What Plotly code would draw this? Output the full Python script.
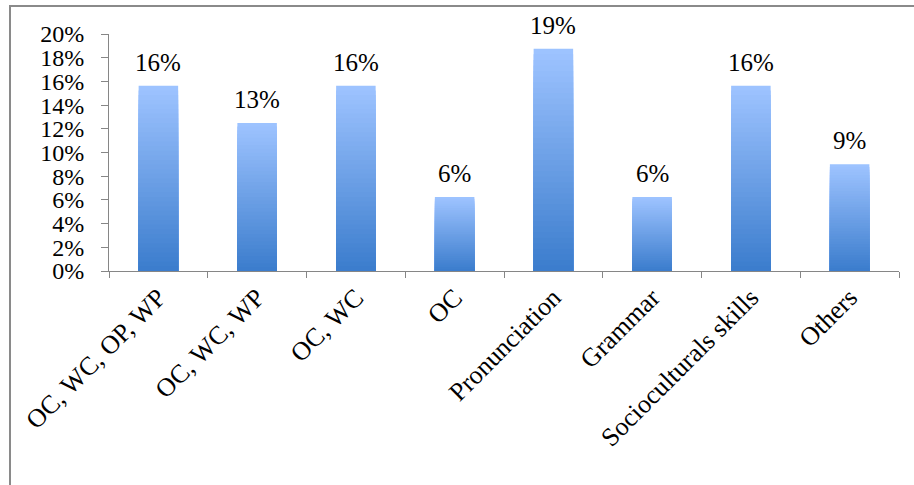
import plotly.graph_objects as go

categories = ["OC, WC, OP, WP", "OC, WC, WP", "OC, WC", "OC", "Pronunciation",
              "Grammar", "Socioculturals skills", "Others"]
values = [15.625, 12.5, 15.625, 6.25, 18.75, 6.25, 15.625, 9.0]
labels = [f"{int(v + 0.5)}%" for v in values]
y_ticks = list(range(0, 21, 2))

FONT = "Liberation Serif"
top_rgb = (157, 195, 255)
bot_rgb = (60, 125, 205)
N = 40

fig = go.Figure()
for i in range(N):
    frac = (N - i) / N
    t = i / (N - 1)
    c = tuple(int(round(top_rgb[k] + (bot_rgb[k] - top_rgb[k]) * t)) for k in range(3))
    fig.add_trace(go.Bar(
        x=categories,
        y=[v * frac for v in values],
        marker=dict(color=f"rgb{c}", line=dict(width=0)),
        hoverinfo="skip" if i else "y",
        showlegend=False,
    ))

for cat, v, lab in zip(categories, values, labels):
    fig.add_annotation(x=cat, y=v, text=lab, showarrow=False, yanchor="bottom",
                       yshift=8, font=dict(family=FONT, size=25, color="black"))

fig.update_layout(
    width=914, height=485,
    margin=dict(l=109, r=15, t=34, b=214),
    barmode="overlay", bargap=0.6,
    plot_bgcolor="white", paper_bgcolor="white",
    font=dict(family=FONT, size=25, color="black"),
    shapes=[dict(type="rect", xref="paper", yref="paper",
                 x0=(10 - 109) / 790, x1=1.05, y0=-1.0, y1=(271 - 6) / 237,
                 line=dict(color="#8a8a8a", width=2), fillcolor="rgba(0,0,0,0)",
                 layer="below")],
)
fig.update_xaxes(
    type="category", range=[-0.5, 7.5], tickson="boundaries", ticks="outside",
    ticklen=6, tickcolor="#868686", showline=True, linecolor="#868686", linewidth=1,
    tickangle=-45, showgrid=False, tickfont=dict(family=FONT, size=26, color="black"),
)
fig.update_yaxes(
    range=[0, 20], tickvals=y_ticks, ticktext=[f"{v}%" for v in y_ticks],
    ticks="outside", ticklen=7, tickcolor="#868686", showline=True,
    linecolor="#868686", linewidth=1, showgrid=False, zeroline=False,
    ticklabelstandoff=12,
    tickfont=dict(family=FONT, size=24, color="black"),
)

fig.write_html("out.html")
